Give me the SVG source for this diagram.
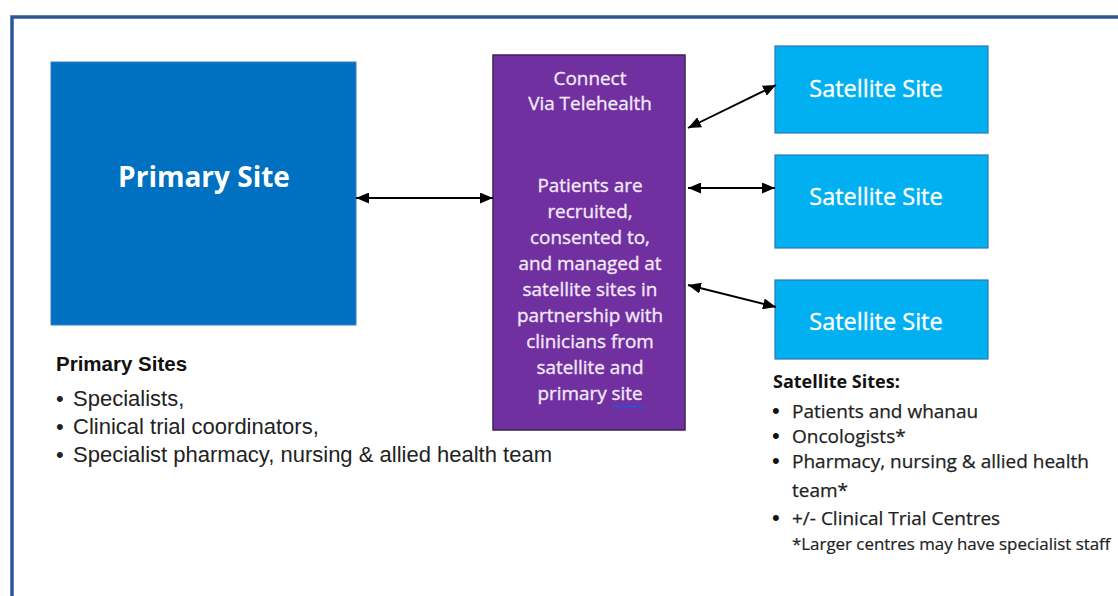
<svg xmlns="http://www.w3.org/2000/svg" width="1118" height="596" viewBox="0 0 1118 596">
  <style>
    .frame { fill: none; stroke: #2F5597; stroke-width: 3.5; }
    .primary { fill: #0070C0; stroke: #3A7BC8; stroke-width: 1; }
    .hub { fill: #7030A0; stroke: #3D1F5A; stroke-width: 1.5; }
    .sat { fill: #00B0F0; stroke: #2E75B6; stroke-width: 1.2; }
    .link { stroke: #000; stroke-width: 1.9; fill: none; marker-start: url(#head); marker-end: url(#head); }
    .t-primary { font-family: "Open Sans", "DejaVu Sans", sans-serif; font-weight: bold; font-size: 28px; fill: #FFFFFF; text-anchor: middle; }
    .t-hub { font-family: "Open Sans", "DejaVu Sans", sans-serif; font-size: 18.9px; fill: #F3E8F8; stroke: #F3E8F8; stroke-width: 0.35; text-anchor: middle; }
    .t-sat { font-family: "Open Sans", "DejaVu Sans", sans-serif; font-size: 23.5px; fill: #FFFFFF; stroke: #FFFFFF; stroke-width: 0.35; text-anchor: middle; }
    .t-arial-h { font-family: "Liberation Sans", Arial, sans-serif; font-weight: bold; font-size: 20.5px; fill: #111; }
    .t-arial { font-family: "Liberation Sans", Arial, sans-serif; font-size: 22px; fill: #222; }
    .t-list-h { font-family: "Open Sans", "DejaVu Sans", sans-serif; font-weight: bold; font-size: 18px; fill: #111; }
    .t-list { font-family: "Open Sans", "DejaVu Sans", sans-serif; font-size: 19px; fill: #222; stroke: #222; stroke-width: 0.25; }
    .t-note { font-family: "Open Sans", "DejaVu Sans", sans-serif; font-size: 16.9px; fill: #222; stroke: #222; stroke-width: 0.2; }
    .dot { font-family: "Liberation Sans", Arial, sans-serif; font-size: 22px; fill: #111; }
  </style>
  <defs>
    <marker id="head" viewBox="0 0 13 11" refX="13" refY="5.5" markerUnits="userSpaceOnUse" markerWidth="13" markerHeight="11" orient="auto-start-reverse">
      <path d="M0,0 L13,5.5 L0,11 z" fill="#000"/>
    </marker>
  </defs>

  <rect width="1118" height="596" fill="#FFFFFF"/>
  <!-- outer frame, open to the right and bottom -->
  <path class="frame" d="M12,600 V17 H1120"/>

  <g id="primary-site">
    <rect class="primary" x="51" y="62" width="305" height="263"/>
    <text class="t-primary" x="204" y="187">Primary Site</text>
  </g>

  <g id="telehealth-hub">
    <rect class="hub" x="493" y="55" width="192" height="375"/>
    <text class="t-hub" x="590" y="85">Connect</text>
    <text class="t-hub" x="590" y="110">Via Telehealth</text>
    <text class="t-hub" x="590" y="192">Patients are</text>
    <text class="t-hub" x="590" y="218">recruited,</text>
    <text class="t-hub" x="590" y="244">consented to,</text>
    <text class="t-hub" x="590" y="270">and managed at</text>
    <text class="t-hub" x="590" y="296">satellite sites in</text>
    <text class="t-hub" x="590" y="322">partnership with</text>
    <text class="t-hub" x="590" y="348">clinicians from</text>
    <text class="t-hub" x="590" y="374">satellite and</text>
    <text class="t-hub" x="590" y="400">primary site</text>
    <line x1="613" y1="406.5" x2="644" y2="406.5" stroke="#2E4FD0" stroke-width="2"/>
  </g>

  <g id="satellite-1">
    <rect class="sat" x="775" y="46" width="213" height="87"/>
    <text class="t-sat" x="876" y="97">Satellite Site</text>
  </g>
  <g id="satellite-2">
    <rect class="sat" x="775" y="155" width="213" height="93"/>
    <text class="t-sat" x="876" y="205">Satellite Site</text>
  </g>
  <g id="satellite-3">
    <rect class="sat" x="775" y="280" width="213" height="79"/>
    <text class="t-sat" x="876" y="330">Satellite Site</text>
  </g>

  <g id="connectors">
    <line class="link" x1="356" y1="198" x2="493" y2="198"/>
    <line class="link" x1="688" y1="128" x2="776" y2="85"/>
    <line class="link" x1="688" y1="188" x2="775" y2="188"/>
    <line class="link" x1="688" y1="285" x2="776" y2="307"/>
  </g>

  <g id="primary-notes">
    <text class="t-arial-h" x="56" y="371">Primary Sites</text>
    <text class="t-arial" x="56" y="406">•</text>
    <text class="t-arial" x="73" y="406">Specialists,</text>
    <text class="t-arial" x="56" y="434">•</text>
    <text class="t-arial" x="73" y="434">Clinical trial coordinators,</text>
    <text class="t-arial" x="56" y="462">•</text>
    <text class="t-arial" x="73" y="462">Specialist pharmacy, nursing &amp; allied health team</text>
  </g>

  <g id="satellite-notes">
    <text class="t-list-h" x="773" y="388">Satellite Sites:</text>
    <text class="dot" x="772" y="418">•</text>
    <text class="t-list" x="792" y="418">Patients and whanau</text>
    <text class="dot" x="772" y="443">•</text>
    <text class="t-list" x="792" y="443">Oncologists*</text>
    <text class="dot" x="772" y="468">•</text>
    <text class="t-list" x="792" y="468">Pharmacy, nursing &amp; allied health</text>
    <text class="t-list" x="792" y="497">team*</text>
    <text class="dot" x="772" y="525">•</text>
    <text class="t-list" x="792" y="525">+/- Clinical Trial Centres</text>
    <text class="t-note" x="792" y="550">*Larger centres may have specialist staff</text>
  </g>
</svg>
